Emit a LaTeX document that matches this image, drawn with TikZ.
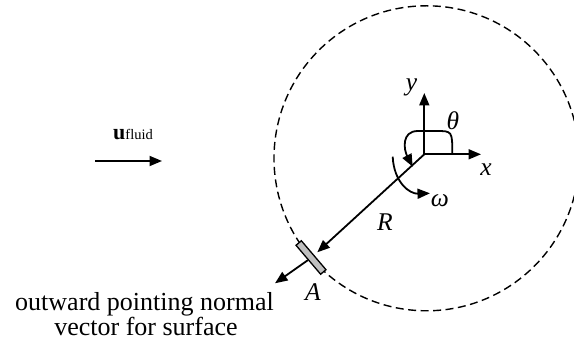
\documentclass[tikz,border=0pt]{standalone}
\usepackage{fontspec}
\setmainfont{Liberation Serif}
\usetikzlibrary{arrows.meta}
\tikzset{
  lbl/.style={inner sep=0pt, anchor=base, font=\fontsize{25.5}{30}\selectfont\itshape},
  txt/.style={inner sep=0pt, anchor=base, font=\fontsize{26}{30}\selectfont},
  arr/.style={line width=1.8pt, -{Triangle[length=12.5pt,width=10pt]}},
  dcircle/.style={line width=1.4pt, dash pattern=on 8pt off 4.5pt},
  surf/.style={draw, line width=1.3pt, fill=gray!50, minimum width=38pt, minimum height=7pt, inner sep=0pt, rotate=-49.6}
}
\begin{document}
\begin{tikzpicture}[x=1pt,y=-1pt]
\useasboundingbox (0,0) rectangle (574,347);
\clip (0,0) rectangle (574,347);
% dashed control surface
\coordinate (C) at (426.5,158.3);
\draw[dcircle] (C) circle[radius=152.5];
% axes
\coordinate (O) at (424.3,154.3);
\coordinate (xt) at (481,154.3);
\coordinate (yt) at (424.3,93);
\draw[arr] (O) -- (xt);
\draw[arr] (O) -- (yt);
\node[lbl] (xl) at (486,176) {x};
\node[lbl] (yl) at (411.5,91) {y};
% theta arc
\coordinate (th0) at (452.3,154.3);
\coordinate (th1) at (412.7,166.7);
\draw[arr] (th0) .. controls (452.3,131) .. (436,131) -- (418,131) .. controls (401,131) and (404,150) .. (th1);
\node[lbl] (thl) at (453,130) {θ};
% omega arc
\coordinate (om0) at (392.7,156.7);
\coordinate (om1) at (430,193.3);
\draw[arr] (om0) .. controls (394,183) and (410,194) .. (om1);
\node[lbl] (oml) at (440,207) {ω};
% surface element
\node[surf] (A) at (311,257.5) {};
\coordinate (Rtip) at (317.3,252.3);
\draw[arr] (O) -- (Rtip);
\node[lbl] (Rl) at (385,231) {R};
\coordinate (ntip) at (275,283.3);
\draw[arr] (A.south) -- (ntip);
\node[lbl] (Al) at (313,301) {A};
% fluid velocity
\coordinate (u0) at (95,161);
\coordinate (u1) at (162,161);
\draw[arr] (u0) -- (u1);
\node[inner sep=0pt, anchor=base west] (ul) at (113,140) {\fontsize{22}{26}\selectfont\bfseries u\fontsize{14.5}{17}\selectfont\mdseries fluid};
% caption
\node[txt] (t1) at (144.5,310.5) {outward pointing normal};
\node[txt] (t2) at (146,335.5) {vector for surface};
\end{tikzpicture}
\end{document}
